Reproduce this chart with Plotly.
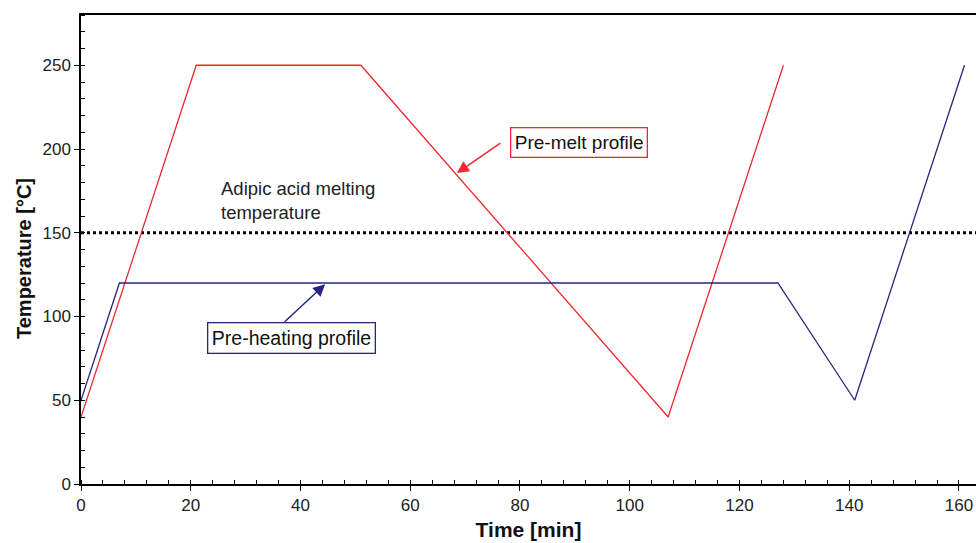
import plotly.graph_objects as go

# Data
premelt_time = [0, 21, 51, 107, 128]
premelt_temp = [40, 250, 250, 40, 250]
preheat_time = [0, 7, 127, 141, 161]
preheat_temp = [50, 120, 120, 50, 250]
melt_line_time = [0, 170]
melt_line_temp = [150, 150]

x_ticks = [0, 20, 40, 60, 80, 100, 120, 140, 160]
y_ticks = [0, 50, 100, 150, 200, 250]

RED = "#f0282d"
BLUE = "#27267f"
FONT = "Arial, Liberation Sans, sans-serif"
TICKFONT = dict(family=FONT, size=17, color="#222")

fig = go.Figure()
fig.add_trace(go.Scatter(x=melt_line_time, y=melt_line_temp, mode="lines",
                         line=dict(color="black", width=3, dash="dot"), showlegend=False))
fig.add_trace(go.Scatter(x=premelt_time, y=premelt_temp, mode="lines",
                         line=dict(color=RED, width=1.3), showlegend=False))
fig.add_trace(go.Scatter(x=preheat_time, y=preheat_temp, mode="lines",
                         line=dict(color=BLUE, width=1.3), showlegend=False))

annotations = [
    dict(x=25.2, y=169.4, xref="x", yref="y", xanchor="left", yanchor="middle",
         text="Adipic acid melting<br>temperature", showarrow=False, align="left",
         font=dict(family=FONT, size=18.5, color="#222")),
    dict(x=90.7, y=204, xref="x", yref="y", text="Pre-melt profile", showarrow=False,
         font=dict(family=FONT, size=19, color="#111"), bordercolor=RED, borderwidth=1.3,
         borderpad=3.5, bgcolor="white"),
    dict(x=68.5, y=185.6, xref="x", yref="y", text="", showarrow=True, ax=45, ay=-31,
         arrowhead=2, arrowsize=1.6, arrowwidth=1.5, arrowcolor=RED),
    dict(x=38.4, y=87.1, xref="x", yref="y", text="Pre-heating profile", showarrow=False,
         font=dict(family=FONT, size=19.5, color="#111"), bordercolor=BLUE, borderwidth=1.3,
         borderpad=3.5, bgcolor="white"),
    dict(x=44.5, y=119.3, xref="x", yref="y", text="", showarrow=True, ax=-42, ay=39,
         arrowhead=2, arrowsize=1.6, arrowwidth=1.5, arrowcolor=BLUE),
    # y-axis title (placed as annotation to match its offset position)
    dict(x=-57 / 895, y=(484 - 259) / 469, xref="paper", yref="paper", textangle=-90,
         text="<b>Temperature [°C]</b>", showarrow=False, xanchor="center", yanchor="middle",
         font=dict(family=FONT, size=20, color="#111")),
]

fig.update_layout(
    width=976, height=543,
    margin=dict(l=81, r=0, t=15, b=59),
    plot_bgcolor="white", paper_bgcolor="white",
    font=dict(family=FONT, size=17, color="#222"),
    annotations=annotations,
    xaxis=dict(range=[0, 163.1], tickvals=x_ticks, showgrid=False, zeroline=False,
               showline=True, linecolor="black", linewidth=1.5, mirror=True,
               ticks="outside", ticklen=5, tickcolor="black", automargin=False,
               tickfont=TICKFONT,
               minor=dict(dtick=4, ticks="inside", ticklen=4, tickcolor="black"),
               title=dict(text="<b>Time [min]</b>", font=dict(family=FONT, size=21, color="#111"), standoff=8)),
    yaxis=dict(range=[0, 280], tickvals=y_ticks, showgrid=False, zeroline=False,
               showline=True, linecolor="black", linewidth=1.5,
               ticks="outside", ticklen=5, tickcolor="black", automargin=False,
               tickfont=TICKFONT,
               minor=dict(dtick=10, ticks="inside", ticklen=4, tickcolor="black")),
)

fig.write_html("out.html")
